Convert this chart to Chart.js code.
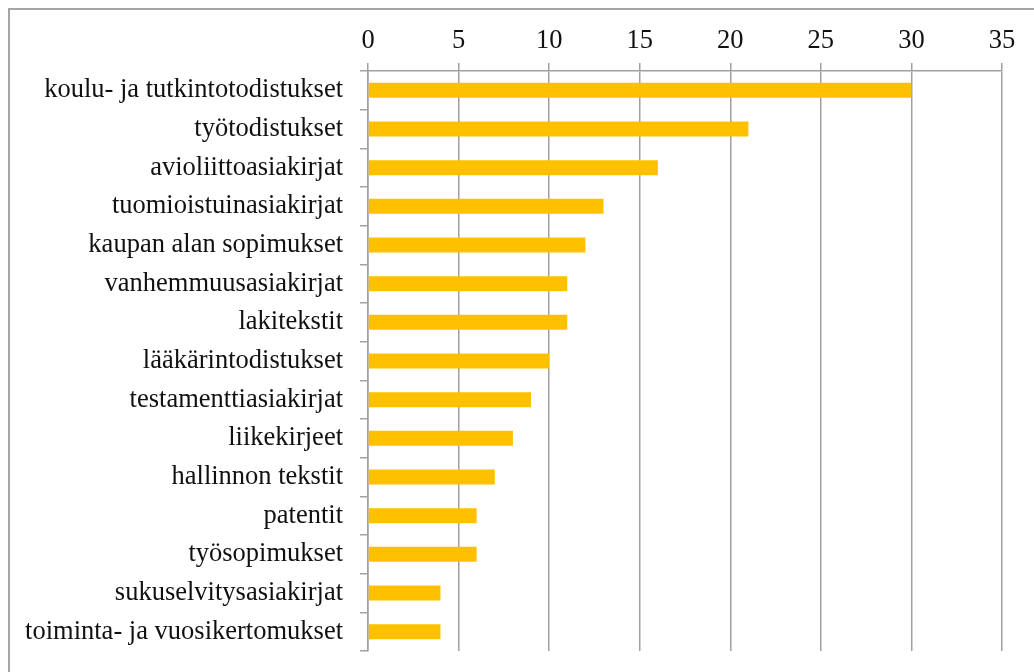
<!DOCTYPE html>
<html>
<head>
<meta charset="utf-8">
<script src="https://cdn.jsdelivr.net/npm/chart.js@4/dist/chart.umd.min.js"></script>
<style>
  html, body { margin: 0; padding: 0; background: #fff; overflow: hidden; }
  #wrap { position: absolute; left: 0; top: 0; width: 1034px; height: 672px; }
  #frame { position: absolute; left: 8px; top: 8px; width: 1100px; height: 700px; border: 2px solid #a6a6a6; box-sizing: border-box; pointer-events: none; }
  canvas { position: absolute; left: 0; top: 0; }
</style>
</head>
<body>
<div id="wrap">
  <canvas id="c" width="1034" height="672"></canvas>
  <div id="frame"></div>
</div>
<script>
const categories = [
  "koulu- ja tutkintotodistukset",
  "työtodistukset",
  "avioliittoasiakirjat",
  "tuomioistuinasiakirjat",
  "kaupan alan sopimukset",
  "vanhemmuusasiakirjat",
  "lakitekstit",
  "lääkärintodistukset",
  "testamenttiasiakirjat",
  "liikekirjeet",
  "hallinnon tekstit",
  "patentit",
  "työsopimukset",
  "sukuselvitysasiakirjat",
  "toiminta- ja vuosikertomukset"
];
const values = [30, 21, 16, 13, 12, 11, 11, 10, 9, 8, 7, 6, 6, 4, 4];
const xMin = 0, xMax = 35, xStep = 5;

const fam = "'Liberation Serif', 'Times New Roman', serif";

new Chart(document.getElementById('c'), {
  type: 'bar',
  data: {
    labels: categories,
    datasets: [{
      data: values,
      backgroundColor: '#FFC000',
      borderWidth: 0,
      barPercentage: 0.39,
      categoryPercentage: 1.0
    }]
  },
  options: {
    indexAxis: 'y',
    responsive: false,
    animation: false,
    devicePixelRatio: 1,
    layout: { padding: { left: 0, right: 32, top: 0, bottom: 21 } },
    plugins: { legend: { display: false }, tooltip: { enabled: false } },
    scales: {
      x: {
        position: 'top',
        min: xMin, max: xMax,
        ticks: { stepSize: xStep, color: '#111', font: { family: fam, size: 26.5, lineHeight: 1.0 }, padding: 9, maxRotation: 0 },
        grid: { color: '#a0a0a0', lineWidth: 1.5, tickLength: 8, drawTicks: true },
        border: { color: '#a0a0a0', width: 1.5 },
        afterFit: (s) => { s.height = 71; }
      },
      y: {
        ticks: { color: '#111', font: { family: fam, size: 26.5, lineHeight: 1.0 }, padding: 17, autoSkip: false },
        grid: { display: true, drawOnChartArea: false, offset: true, tickLength: 8, color: '#a0a0a0', lineWidth: 1.5 },
        border: { color: '#a0a0a0', width: 1.5 },
        afterFit: (s) => { s.width = 368; s.paddingTop = 0; s.paddingBottom = 0; }
      }
    }
  }
});
</script>
</body>
</html>
